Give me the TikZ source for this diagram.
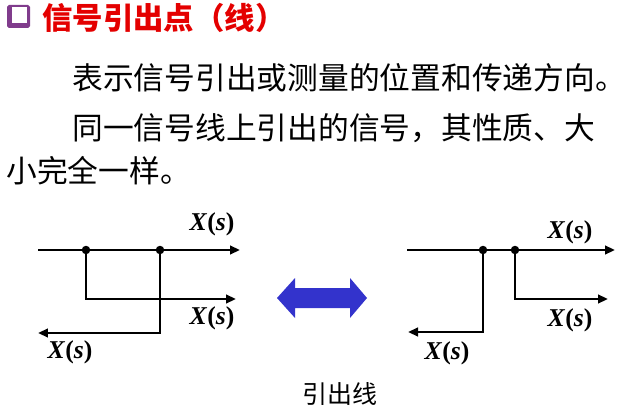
\documentclass[tikz,border=0pt]{standalone}
\usepackage{fontspec}
\setmainfont{Liberation Serif}
\newfontfamily\cjk{Noto Sans CJK SC}
\usepackage{tikz}
\usetikzlibrary{arrows.meta}
\definecolor{titlered}{RGB}{228,0,0}
\definecolor{boxpurple}{RGB}{128,60,140}
\definecolor{swapblue}{RGB}{51,51,204}
\newcommand{\Xs}{\textbf{\textit{X}(\textit{s})}}

\begin{document}
\begin{tikzpicture}[x=0.02cm,y=-0.02cm,
  sig/.style={line width=1.6pt,-{Triangle[length=0.2cm,width=0.17cm]}},
  tap/.style={circle,fill,inner sep=0pt,minimum size=0.17cm},
  lbl/.style={inner sep=0pt,font=\fontsize{14.6}{16}\selectfont},
  body/.style={anchor=west,inner sep=0pt,font=\cjk\fontsize{17.5}{21}\selectfont}]
 \useasboundingbox (0,0) rectangle (631,408);
 % heading with its square bullet
 \fill[boxpurple,rounded corners=1pt] (7,5) rectangle (30,28);
 \fill[white] (12,7) rectangle (27,23);
 \node[anchor=west,inner sep=0pt,titlered,font=\cjk\bfseries\fontsize{17.3}{20}\selectfont] (title) at (42,18) {信号引出点（线）};
 \node[body] (line1) at (72,78) {表示信号引出或测量的位置和传递方向。};
 \node[body] (line2) at (72,128) {同一信号线上引出的信号，其性质、大};
 \node[body] (line3) at (6,171) {小完全一样。};
 % left: branch points one after the other
 \coordinate (lin) at (38,250); \coordinate (lout) at (240,250);
 \coordinate (lend2) at (236,299); \coordinate (lend3) at (38,333);
 \node[tap] (la) at (86,250) {};
 \node[tap] (lb) at (160,250) {};
 \draw[sig] (lin) -- (lout);
 \draw[sig] (la.center) |- (lend2);
 \draw[sig] (lb.center) |- (lend3);
 \node[lbl] (lx1) at (212,224) {\Xs};
 \node[lbl] (lx2) at (212,318) {\Xs};
 \node[lbl] (lx3) at (70,352) {\Xs};
 % equivalence arrow
 \fill[swapblue] (277,298) -- (295,278) -- (295,288) -- (350,288) -- (350,278) -- (367,298)
   -- (350,318) -- (350,308) -- (295,308) -- (295,318) -- cycle;
 % right: same branches, order swapped
 \coordinate (rin) at (407,250); \coordinate (rout) at (615,250);
 \coordinate (rend2) at (608,299); \coordinate (rend3) at (408,332);
 \node[tap] (ra) at (483,250) {};
 \node[tap] (rb) at (515,250) {};
 \draw[sig] (rin) -- (rout);
 \draw[sig] (ra.center) |- (rend3);
 \draw[sig] (rb.center) |- (rend2);
 \node[lbl] (rx1) at (570,232) {\Xs};
 \node[lbl] (rx2) at (570,320) {\Xs};
 \node[lbl] (rx3) at (447,353) {\Xs};
 \node[inner sep=0pt,font=\cjk\fontsize{14.2}{16}\selectfont] (caption) at (340,394) {引出线};
\end{tikzpicture}
\end{document}
